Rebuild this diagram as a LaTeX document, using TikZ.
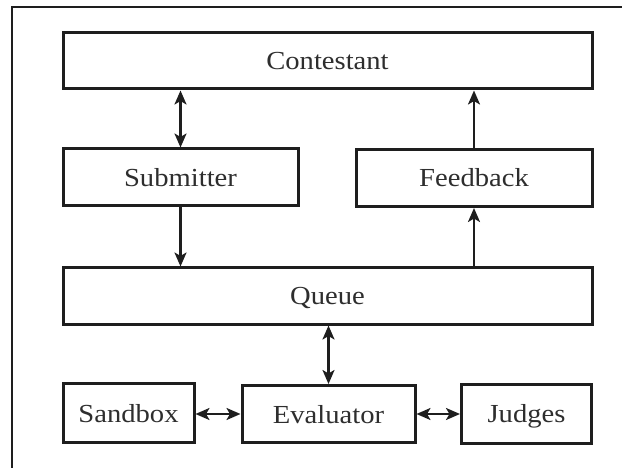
\documentclass[tikz,border=0pt]{standalone}
\usepackage{fontspec}
\setmainfont{Liberation Serif}[FakeStretch=1.1]
\usetikzlibrary{arrows.meta}
\definecolor{ink}{HTML}{1E1E1E}
\definecolor{txt}{HTML}{2E2E2E}
\begin{document}
\begin{tikzpicture}[x=1pt,y=-1pt,
  tip/.tip={Stealth[length=14pt,width=12pt,inset=3.5pt]},
  box/.style={draw=ink,line width=3pt,fill=white,inner sep=0pt,
    font=\fontsize{26}{30}\selectfont,text=txt,text height=18pt,text depth=0pt},
  conn/.style={draw=ink,line width=2.2pt,tip-tip},
  one/.style={draw=ink,line width=2.2pt,-tip}]
\useasboundingbox (0,0) rectangle (622,468);
\fill[white] (0,0) rectangle (622,468);
\coordinate (ftl) at (12,7);
\coordinate (ftr) at (622,7);
\coordinate (fbl) at (12,468);
\draw[ink,line width=1.4pt] (ftr) -- (ftl) -- (fbl);

\node[box,minimum width=529pt,minimum height=56pt] (cont) at (327.5,61) {Contestant};
\node[box,minimum width=235pt,minimum height=57pt] (sub) at (180.5,177.5) {Submitter};
\node[box,minimum width=236pt,minimum height=57pt] (fb) at (474,178) {Feedback};
\node[box,minimum width=529pt,minimum height=56pt] (q) at (327.5,296) {Queue};
\node[box,minimum width=131pt,minimum height=59pt] (sand) at (128.5,413) {Sandbox};
\node[box,minimum width=173pt,minimum height=57pt] (eval) at (328.5,414) {Evaluator};
\node[box,minimum width=130pt,minimum height=59pt] (jud) at (526.5,413.5) {Judges};

\draw[conn] (sub.north) -- (cont.south -| sub.north);
\draw[one] (sub.south) -- (q.north -| sub.south);
\draw[one] (q.north -| fb.south) -- (fb.south);
\draw[one] (fb.north) -- (cont.south -| fb.north);
\draw[conn] (q.south -| eval.north) -- (eval.north);
\draw[conn] (sand.east |- eval.west) -- (eval.west);
\draw[conn] (eval.east) -- (jud.west |- eval.east);
\end{tikzpicture}
\end{document}
